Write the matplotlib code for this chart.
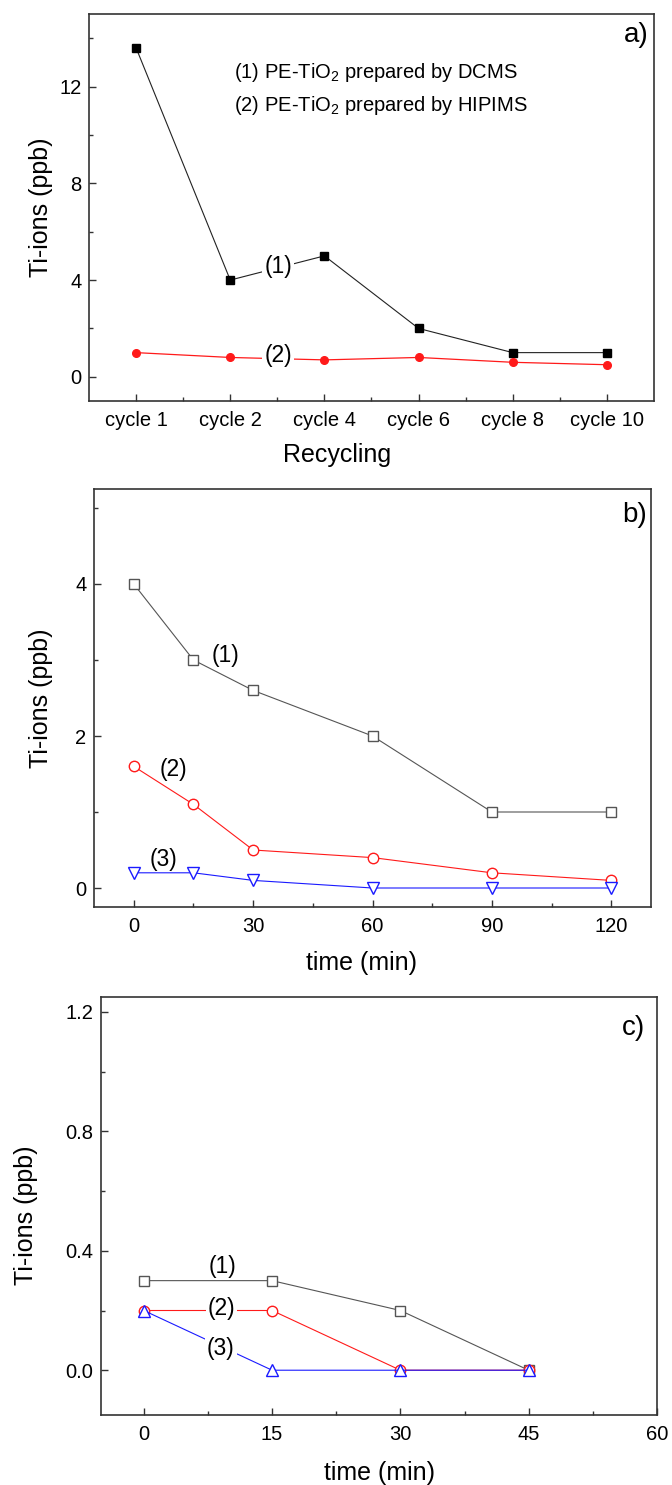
import matplotlib
matplotlib.use("Agg")
import matplotlib.pyplot as plt
from matplotlib.ticker import FixedLocator, MultipleLocator

plt.rcParams['font.family'] = ['Liberation Sans', 'DejaVu Sans']
plt.rcParams['mathtext.default'] = 'regular'

# (a) Ti-ion release over recycling runs
cycles = ['cycle 1', 'cycle 2', 'cycle 4', 'cycle 6', 'cycle 8', 'cycle 10']
dcms_cycles = [13.6, 4.0, 5.0, 2.0, 1.0, 1.0]
hipims_cycles = [1.0, 0.8, 0.7, 0.8, 0.6, 0.5]

# (b) Ti-ion release vs. time
time_b = [0, 15, 30, 60, 90, 120]
b_series1 = [4.0, 3.0, 2.6, 2.0, 1.0, 1.0]
b_series2 = [1.6, 1.1, 0.5, 0.4, 0.2, 0.1]
b_series3 = [0.2, 0.2, 0.1, 0.0, 0.0, 0.0]

# (c) Ti-ion release vs. time
time_c = [0, 15, 30, 45]
c_series1 = [0.3, 0.3, 0.2, 0.0]
c_series2 = [0.2, 0.2, 0.0, 0.0]
c_series3 = [0.2, 0.0, 0.0, 0.0]

legend_lines = [r'(1) PE-TiO$_2$ prepared by DCMS',
                r'(2) PE-TiO$_2$ prepared by HIPIMS']

SPINE = '#333333'
GRAY = '#555555'
RED = '#ff1a1a'
BLUE = '#1a1aff'
TICK_FS = 14.5
LABEL_FS = 18
TAG_FS = 16.5

W, H = 672, 1485
fig = plt.figure(figsize=(W / 100, H / 100), dpi=100)


def axes_px(left, top, right, bottom):
    return fig.add_axes([left / W, 1 - bottom / H, (right - left) / W, (bottom - top) / H])


def style(ax):
    for s in ax.spines.values():
        s.set_color(SPINE)
        s.set_linewidth(1.2)
    ax.tick_params(which='both', direction='in', top=False, right=False,
                   color=SPINE, width=1.0, labelsize=TICK_FS)
    ax.tick_params(which='major', length=5)
    ax.tick_params(which='minor', length=2.8)
    ax.tick_params(axis='x', which='both', pad=7)
    ax.tick_params(axis='y', which='both', pad=5.5)


def tag(ax, x, y, s):
    ax.text(x, y, s, fontsize=TAG_FS, ha='center', va='center', zorder=5,
            bbox=dict(facecolor='white', edgecolor='none', pad=1.5))


# ---------------- panel a ----------------
ax = axes_px(89, 14, 654, 401)
style(ax)
xa = list(range(len(cycles)))
ax.plot(xa, dcms_cycles, color='#222222', lw=0.8, marker='s', ms=6,
        mfc='black', mec='black', zorder=3)
ax.plot(xa, hipims_cycles, color=RED, lw=0.9, marker='o', ms=5.5,
        mfc=RED, mec=RED, zorder=3)
ax.set_xlim(-0.5, 5.5)
ax.set_ylim(-1, 15)
ax.xaxis.set_major_locator(FixedLocator(xa))
ax.set_xticklabels(cycles)
ax.xaxis.set_minor_locator(FixedLocator([i + 0.5 for i in xa[:-1]]))
ax.yaxis.set_major_locator(FixedLocator([0, 4, 8, 12]))
ax.yaxis.set_minor_locator(FixedLocator([2, 6, 10, 14]))
ax.set_ylabel('Ti-ions (ppb)', fontsize=LABEL_FS)
ax.set_xlabel('Recycling', fontsize=LABEL_FS)
ax.yaxis.set_label_coords(-0.085, 0.5)
ax.yaxis.label.set_va('center')
ax.xaxis.set_label_coords(0.439, -0.1395)
ax.xaxis.label.set_va('center')
tag(ax, 1.51, 4.57, '(1)')
tag(ax, 1.51, 0.87, '(2)')
ax.text(1.04, 12.57, legend_lines[0], fontsize=14.5, ha='left', va='center')
ax.text(1.04, 11.2, legend_lines[1], fontsize=14.5, ha='left', va='center')
ax.text(0.99, 0.946, 'a)', transform=ax.transAxes, fontsize=20,
        ha='right', va='center')

# ---------------- panel b ----------------
ax = axes_px(94, 489, 651, 907)
style(ax)
ax.plot(time_b, b_series1, color=GRAY, lw=0.8, marker='s', ms=7,
        mfc='white', mec=GRAY, mew=1.0, zorder=3)
ax.plot(time_b, b_series2, color=RED, lw=0.8, marker='o', ms=7.5,
        mfc='white', mec=RED, mew=1.0, zorder=3)
ax.plot(time_b, b_series3, color=BLUE, lw=0.8, marker='v', ms=8,
        mfc='white', mec=BLUE, mew=1.0, zorder=3)
ax.set_xlim(-10, 130)
ax.set_ylim(-0.25, 5.25)
ax.xaxis.set_major_locator(MultipleLocator(30))
ax.xaxis.set_minor_locator(FixedLocator([15, 45, 75, 105]))
ax.yaxis.set_major_locator(FixedLocator([0, 2, 4]))
ax.yaxis.set_minor_locator(FixedLocator([1, 3, 5]))
ax.set_ylabel('Ti-ions (ppb)', fontsize=LABEL_FS)
ax.set_xlabel('time (min)', fontsize=LABEL_FS)
ax.yaxis.set_label_coords(-0.095, 0.5)
ax.yaxis.label.set_va('center')
ax.xaxis.set_label_coords(0.481, -0.134)
ax.xaxis.label.set_va('center')
ax.text(23.0, 3.06, '(1)', fontsize=TAG_FS, ha='center', va='center')
ax.text(9.9, 1.56, '(2)', fontsize=TAG_FS, ha='center', va='center')
ax.text(7.5, 0.37, '(3)', fontsize=TAG_FS, ha='center', va='center')
ax.text(0.993, 0.938, 'b)', transform=ax.transAxes, fontsize=20,
        ha='right', va='center')

# ---------------- panel c ----------------
ax = axes_px(101, 997, 657, 1415)
style(ax)
ax.plot(time_c, c_series1, color=GRAY, lw=0.8, marker='s', ms=7,
        mfc='white', mec=GRAY, mew=1.0, zorder=3)
ax.plot(time_c, c_series2, color=RED, lw=0.8, marker='o', ms=7.5,
        mfc='white', mec=RED, mew=1.0, zorder=3)
ax.plot(time_c, c_series3, color=BLUE, lw=0.8, marker='^', ms=8,
        mfc='white', mec=BLUE, mew=1.0, zorder=3)
ax.set_xlim(-5, 60)
ax.set_ylim(-0.15, 1.25)
ax.xaxis.set_major_locator(MultipleLocator(15))
ax.xaxis.set_minor_locator(FixedLocator([7.5, 22.5, 37.5, 52.5]))
ax.yaxis.set_major_locator(FixedLocator([0.0, 0.4, 0.8, 1.2]))
ax.yaxis.set_minor_locator(FixedLocator([0.2, 0.6, 1.0]))
ax.yaxis.set_major_formatter(matplotlib.ticker.FormatStrFormatter('%.1f'))
ax.set_ylabel('Ti-ions (ppb)', fontsize=LABEL_FS)
ax.set_xlabel('time (min)', fontsize=LABEL_FS)
ax.yaxis.set_label_coords(-0.135, 0.478)
ax.yaxis.label.set_va('center')
ax.xaxis.set_label_coords(0.50, -0.139)
ax.xaxis.label.set_va('center')
ax.text(9.2, 0.348, '(1)', fontsize=TAG_FS, ha='center', va='center')
tag(ax, 9.1, 0.207, '(2)')
tag(ax, 9.0, 0.073, '(3)')
ax.text(0.978, 0.926, 'c)', transform=ax.transAxes, fontsize=20,
        ha='right', va='center')

fig.savefig('out.png', dpi=100)
